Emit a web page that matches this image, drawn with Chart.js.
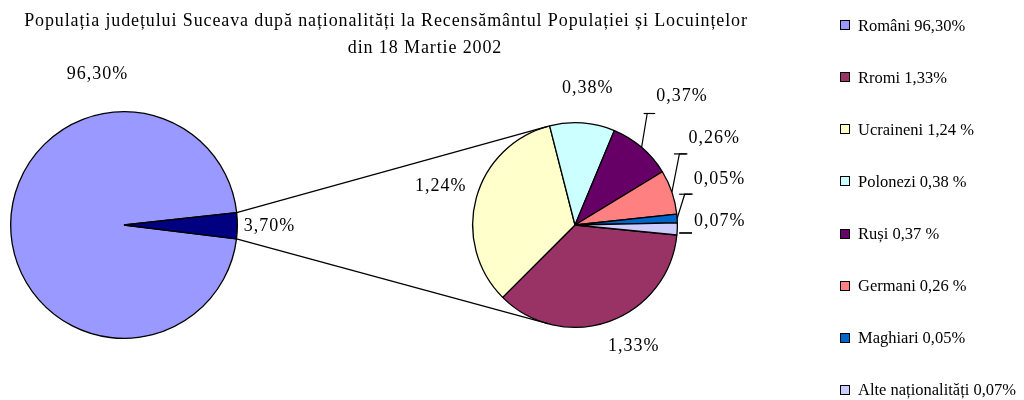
<!DOCTYPE html>
<html>
<head>
<meta charset="utf-8">
<script src="https://cdn.jsdelivr.net/npm/chart.js@4.4.1/dist/chart.umd.min.js"></script>
<style>
  html, body { margin: 0; padding: 0; background: #fff; }
  #wrap { position: relative; width: 1024px; height: 400px; overflow: hidden;
          font-family: "Liberation Serif", "Times New Roman", serif; color: #000; }
  .layer { position: absolute; left: 0; top: 0; width: 1024px; height: 400px; }
  #leaders { position: absolute; left: 0; top: 0; width: 1024px; height: 400px; pointer-events: none; }
  .ttl { position: absolute; white-space: nowrap; font-size: 18px; line-height: 18px; letter-spacing: 0.88px; transform: translateX(-50%); }
  .lg { position: absolute; left: 840px; height: 20px; white-space: nowrap; }
  .lg .box { position: absolute; left: 0; top: 5px; width: 8px; height: 8px; border: 1px solid #000; }
  .lg .txt { position: absolute; left: 18px; top: 0; font-size: 16.5px; line-height: 18px; }
</style>
</head>
<body>
<div id="wrap">
  <div class="layer"><canvas id="mainPie"></canvas></div>
  <div class="layer"><canvas id="subPie"></canvas></div>
  <svg id="leaders" width="1024" height="400" xmlns="http://www.w3.org/2000/svg"></svg>
  <div id="title"></div>
  <div id="legend"></div>
</div>
<script>
// ---------- data ----------
const titleLines = [
  'Populația județului Suceava după naționalități la Recensământul Populației și Locuințelor',
  'din 18 Martie 2002'
];
const mainLabels = ['Români', 'Alte naționalități (total)'];
const mainValues = [96.30, 3.70];
const subLabels = ['Rromi', 'Ucraineni', 'Polonezi', 'Ruși', 'Germani', 'Maghiari', 'Alte naționalități'];
const subValues = [1.33, 1.24, 0.38, 0.37, 0.26, 0.05, 0.07];
const legendTexts = ['Români 96,30%', 'Rromi 1,33%', 'Ucraineni 1,24 %', 'Polonezi 0,38 %',
                     'Ruși 0,37 %', 'Germani 0,26 %', 'Maghiari 0,05%', 'Alte naționalități 0,07%'];

// ---------- styles ----------
const mainColors = ['#9999FF', '#000080'];
const subColors = ['#993366', '#FFFFCC', '#CCFFFF', '#660066', '#FF8080', '#0066CC', '#CCCCFF'];
const labelFont = '18px "Liberation Serif", "Times New Roman", serif';
const labelSpacing = 1; // px between characters

// label placement relative to slice: angle shift (deg) and distance factor (x radius)
const mainLabelPlace = [{ da: 79.5, k: 1.35 }, { da: 0, k: 1.28 }];
const subLabelPlace = [
  { da: -6, k: 1.315 }, { da: 0.7, k: 1.37 }, { da: 1, k: 1.345 },
  { da: -1, k: 1.63, leader: 17 }, { da: -13.4, k: 1.60, leader: 16 },
  { da: -14, k: 1.476, leader: 15 }, { da: -3.8, k: 1.41, leader: 12, flat: true }
];

function fmt(v) { return v.toFixed(2).replace('.', ',') + '%'; }

// ---------- title & legend (HTML text) ----------
const titleEl = document.getElementById('title');
[{ cx: 386, top: 11 }, { cx: 425, top: 38 }].forEach((p, i) => {
  const d = document.createElement('div');
  d.className = 'ttl';
  d.style.left = p.cx + 'px';
  d.style.top = p.top + 'px';
  d.textContent = titleLines[i];
  titleEl.appendChild(d);
});
const legendColors = [mainColors[0]].concat(subColors);
const legendEl = document.getElementById('legend');
legendTexts.forEach((t, i) => {
  const cy = 25 + i * 52.14;
  const item = document.createElement('div');
  item.className = 'lg';
  item.style.top = (cy - 10) + 'px';
  const b = document.createElement('div');
  b.className = 'box';
  b.style.background = legendColors[i];
  const s = document.createElement('div');
  s.className = 'txt';
  s.style.top = '1.5px';
  s.textContent = t;
  item.appendChild(b); item.appendChild(s);
  legendEl.appendChild(item);
});

// ---------- helpers ----------
function spacedWidth(ctx, txt, sp) {
  return Array.from(txt).reduce((a, ch) => a + ctx.measureText(ch).width, 0) + sp * (txt.length - 1);
}
function drawSpaced(ctx, txt, cx, cy, sp) {
  let x = cx - spacedWidth(ctx, txt, sp) / 2;
  Array.from(txt).forEach(ch => {
    ctx.fillText(ch, x, cy);
    x += ctx.measureText(ch).width + sp;
  });
}
// geometry of labels (and leader polylines) derived from the chart's arc elements
function labelLayout(chart, place, ctx) {
  const values = chart.data.datasets[0].data;
  return chart.getDatasetMeta(0).data.map((arc, i) => {
    const pl = place[i];
    const cx = arc.x, cy = arc.y, R = arc.outerRadius;
    const mid = (arc.startAngle + arc.endAngle) / 2;
    const a = mid + pl.da * Math.PI / 180;
    const lx = cx + Math.cos(a) * R * pl.k;
    const ly = cy + Math.sin(a) * R * pl.k;
    const txt = fmt(values[i]);
    let leader = null;
    if (pl.leader) {
      const left = lx - spacedWidth(ctx, txt, labelSpacing) / 2;
      const sx = cx + Math.cos(mid) * R, sy = cy + Math.sin(mid) * R;
      const ey = ly + pl.leader;
      leader = pl.flat ? [[sx + 2, ey], [left - 2, ey]]
                       : [[sx, sy], [left - 9, ey], [left - 1, ey]];
    }
    return { lx, ly, txt, leader };
  });
}

// ---------- plugins ----------
const pieLabels = {
  id: 'pieLabels',
  afterDraw(chart, args, opts) {
    const ctx = chart.ctx;
    ctx.save();
    ctx.font = labelFont;
    ctx.textAlign = 'left';
    ctx.textBaseline = 'middle';
    ctx.fillStyle = '#000';
    ctx.strokeStyle = '#000';
    ctx.lineWidth = 1.2;
    const items = labelLayout(chart, opts.place, ctx);
    items.forEach(it => {
      if (!it.leader) return;
      ctx.beginPath();
      it.leader.forEach((p, j) => j ? ctx.lineTo(p[0], p[1]) : ctx.moveTo(p[0], p[1]));
      ctx.stroke();
    });
    items.forEach(it => drawSpaced(ctx, it.txt, it.lx, it.ly, labelSpacing));
    ctx.restore();
  }
};

let mainChart;
const connector = {
  id: 'connector',
  afterDraw(chart) {
    if (!mainChart) return;
    const srcArc = mainChart.getDatasetMeta(0).data[1];
    const dstArc = chart.getDatasetMeta(0).data[0];
    const R = srcArc.outerRadius, r = dstArc.outerRadius;
    const pts = [srcArc.startAngle, srcArc.endAngle].map(an => ({
      x: srcArc.x + Math.cos(an) * R,
      y: srcArc.y + Math.sin(an) * R
    })).sort((a, b) => a.y - b.y);
    const ctx = chart.ctx;
    ctx.save();
    ctx.strokeStyle = '#000';
    ctx.lineWidth = 1.3;
    pts.forEach((P, idx) => {
      const dx = P.x - dstArc.x, dy = P.y - dstArc.y;
      const d = Math.hypot(dx, dy);
      const th = Math.atan2(dy, dx);
      const al = Math.acos(r / d);
      const c1 = { x: dstArc.x + Math.cos(th + al) * r, y: dstArc.y + Math.sin(th + al) * r };
      const c2 = { x: dstArc.x + Math.cos(th - al) * r, y: dstArc.y + Math.sin(th - al) * r };
      const T = idx === 0 ? (c1.y < c2.y ? c1 : c2) : (c1.y > c2.y ? c1 : c2);
      ctx.beginPath();
      ctx.moveTo(P.x, P.y);
      ctx.lineTo(T.x, T.y);
      ctx.stroke();
    });
    ctx.restore();
  }
};

Chart.defaults.font.family = '"Liberation Serif", "Times New Roman", serif';

mainChart = new Chart(document.getElementById('mainPie'), {
  type: 'pie',
  data: {
    labels: mainLabels,
    datasets: [{ data: mainValues, backgroundColor: mainColors, borderColor: '#000', borderWidth: 1.3 }]
  },
  options: {
    responsive: true, maintainAspectRatio: false, animation: false, events: [],
    rotation: 97,
    layout: { padding: { left: 10, top: 111, right: 786, bottom: 61 } },
    plugins: { legend: { display: false }, tooltip: { enabled: false },
               pieLabels: { place: mainLabelPlace } }
  },
  plugins: [pieLabels]
});

const subChart = new Chart(document.getElementById('subPie'), {
  type: 'pie',
  data: {
    labels: subLabels,
    datasets: [{ data: subValues, backgroundColor: subColors, borderColor: '#000', borderWidth: 1.3 }]
  },
  options: {
    responsive: true, maintainAspectRatio: false, animation: false, events: [],
    rotation: 95.6,
    layout: { padding: { left: 472, top: 122, right: 346, bottom: 72 } },
    plugins: { legend: { display: false }, tooltip: { enabled: false },
               pieLabels: { place: subLabelPlace } }
  },
  plugins: [pieLabels, connector]
});

// vector copy of the leader lines, taken from the same arc geometry
(function drawSvgLeaders() {
  const ctx = subChart.ctx;
  ctx.save();
  ctx.font = labelFont;
  const items = labelLayout(subChart, subLabelPlace, ctx);
  ctx.restore();
  const svg = document.getElementById('leaders');
  items.forEach(it => {
    if (!it.leader) return;
    const pl = document.createElementNS('http://www.w3.org/2000/svg', 'polyline');
    pl.setAttribute('points', it.leader.map(p => p[0].toFixed(1) + ',' + p[1].toFixed(1)).join(' '));
    pl.setAttribute('fill', 'none');
    pl.setAttribute('stroke', '#000');
    pl.setAttribute('stroke-width', '1.2');
    svg.appendChild(pl);
  });
})();
</script>
</body>
</html>
